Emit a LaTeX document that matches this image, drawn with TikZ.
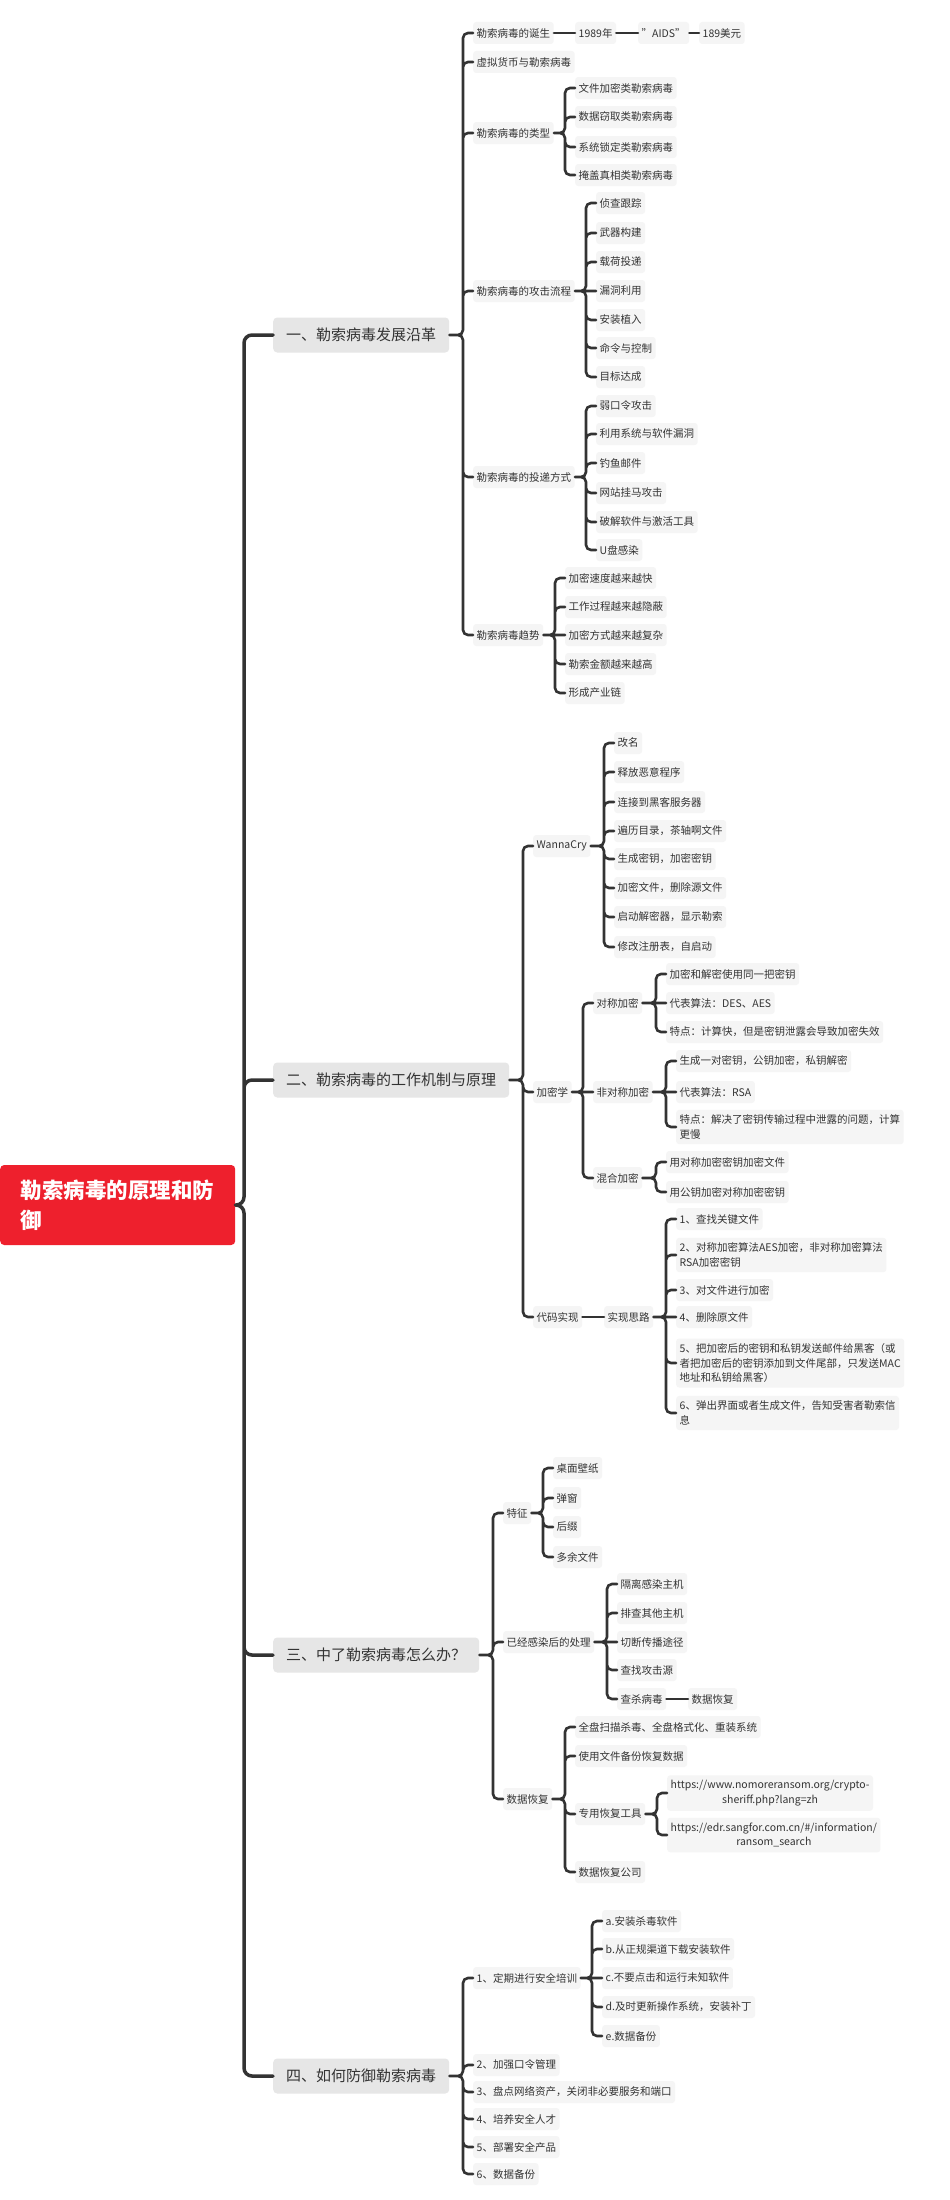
\documentclass[tikz,border=0pt]{standalone}
\usepackage{fontspec}
\setmainfont{Noto Sans CJK SC}
\usepackage{tikz}
\usetikzlibrary{calc}
\definecolor{rootred}{RGB}{238, 32, 45}
\definecolor{topicgray}{RGB}{230, 230, 230}
\definecolor{leafgray}{RGB}{245, 245, 245}
\definecolor{inkgray}{RGB}{51, 51, 51}
\newcommand\leaffont{\fontsize{10.5}{14.5}\selectfont}
\newcommand\topicfont{\fontsize{15}{18}\selectfont}
\newcommand\rootfont{\fontsize{21.5}{30}\selectfont\bfseries}
\tikzset{
  rootbox/.style={anchor=west, fill=rootred, text=white, rounded corners=4pt, font=\rootfont,
                  minimum width=235pt, minimum height=80pt, text width=194pt, align=left, inner sep=0pt},
  topic/.style={anchor=west, fill=topicgray, text=inkgray, rounded corners=4pt, font=\topicfont,
                inner xsep=13pt, inner ysep=0pt, minimum height=35pt},
  leaf/.style={anchor=west, fill=leafgray, text=inkgray, rounded corners=3pt, font=\leaffont,
               inner xsep=3.5pt, inner ysep=5pt, minimum height=22pt},
  mainlink/.style={draw=inkgray, line width=3.5pt, rounded corners=8pt, line cap=round},
  link/.style={draw=inkgray, line width=2.6pt, rounded corners=5pt, line cap=round},
  limb/.style={to path={-| ($(\tikztotarget)+(-29,0)$) -- (\tikztotarget)}},
  branch/.style={to path={-| ($(\tikztotarget)+(-10,0)$) -- (\tikztotarget)}}
}

\begin{document}
\begin{tikzpicture}[x=1pt, y=-1pt]
            % Frame to fix the page size
            \fill[white] (0,0) rectangle (950,2200);
            \useasboundingbox (0,0) rectangle (950,2200);
            % Root
            \node[rootbox] (root) at (0,1205) {勒索病毒的原理和防\\御};
            % Main topics
            \node[topic] (hist) at (273, 335) {一、勒索病毒发展沿革};
            \node[topic] (work) at (273,1080) {二、勒索病毒的工作机制与原理};
            \node[topic] (cure) at (273,1655) {三、中了勒索病毒怎么办？};
            \node[topic] (prev) at (273,2076) {四、如何防御勒索病毒};
            \draw[mainlink] (root.east) to[limb] (hist.west)  (root.east) to[limb] (work.west)
                            (root.east) to[limb] (cure.west)  (root.east) to[limb] (prev.west);

            % One: history
            \node[leaf] (birth) at (473,  33) {勒索病毒的诞生};
            \node[leaf] (year)  at (575,  33) {1989年};
            \node[leaf] (aids)  at (638,  33) {"AIDS"};
            \node[leaf] (usd)   at (699,  33) {189美元};
            \node[leaf] (coin)  at (473,  62) {虚拟货币与勒索病毒};
            \node[leaf] (kinds) at (473, 133) {勒索病毒的类型};
            \node[leaf] (k1)    at (575,  88) {文件加密类勒索病毒};
            \node[leaf] (k2)    at (575, 117) {数据窃取类勒索病毒};
            \node[leaf] (k3)    at (575, 147) {系统锁定类勒索病毒};
            \node[leaf] (k4)    at (575, 175) {掩盖真相类勒索病毒};
            \node[leaf] (flow)  at (473, 291) {勒索病毒的攻击流程};
            \node[leaf] (f1)    at (596, 203) {侦查跟踪};
            \node[leaf] (f2)    at (596, 233) {武器构建};
            \node[leaf] (f3)    at (596, 262) {载荷投递};
            \node[leaf] (f4)    at (596, 291) {漏洞利用};
            \node[leaf] (f5)    at (596, 320) {安装植入};
            \node[leaf] (f6)    at (596, 348) {命令与控制};
            \node[leaf] (f7)    at (596, 377) {目标达成};
            \node[leaf] (ways)  at (473, 477) {勒索病毒的投递方式};
            \node[leaf] (d1)    at (596, 406) {弱口令攻击};
            \node[leaf] (d2)    at (596, 434) {利用系统与软件漏洞};
            \node[leaf] (d3)    at (596, 463) {钓鱼邮件};
            \node[leaf] (d4)    at (596, 493) {网站挂马攻击};
            \node[leaf] (d5)    at (596, 522) {破解软件与激活工具};
            \node[leaf] (d6)    at (596, 550) {U盘感染};
            \node[leaf] (trend) at (473, 635) {勒索病毒趋势};
            \node[leaf] (r1)    at (565, 578) {加密速度越来越快};
            \node[leaf] (r2)    at (565, 607) {工作过程越来越隐蔽};
            \node[leaf] (r3)    at (565, 635) {加密方式越来越复杂};
            \node[leaf] (r4)    at (565, 664) {勒索金额越来越高};
            \node[leaf] (r5)    at (565, 693) {形成产业链};
            \draw[link] (hist.east) to[branch] (birth.west)  (hist.east) to[branch] (coin.west)
                        (hist.east) to[branch] (kinds.west)  (hist.east) to[branch] (flow.west)
                        (hist.east) to[branch] (ways.west)   (hist.east) to[branch] (trend.west);
            \draw[link] (birth.east) -- (year.west)  (year.east) -- (aids.west)  (aids.east) -- (usd.west);
            \draw[link] (kinds.east) to[branch] (k1.west)  (kinds.east) to[branch] (k2.west)
                        (kinds.east) to[branch] (k3.west)  (kinds.east) to[branch] (k4.west);
            \draw[link] (flow.east) to[branch] (f1.west)  (flow.east) to[branch] (f2.west)
                        (flow.east) to[branch] (f3.west)  (flow.east) -- (f4.west)
                        (flow.east) to[branch] (f5.west)  (flow.east) to[branch] (f6.west)
                        (flow.east) to[branch] (f7.west);
            \draw[link] (ways.east) to[branch] (d1.west)  (ways.east) to[branch] (d2.west)
                        (ways.east) to[branch] (d3.west)  (ways.east) to[branch] (d4.west)
                        (ways.east) to[branch] (d5.west)  (ways.east) to[branch] (d6.west);
            \draw[link] (trend.east) to[branch] (r1.west)  (trend.east) to[branch] (r2.west)
                        (trend.east) -- (r3.west)
                        (trend.east) to[branch] (r4.west)  (trend.east) to[branch] (r5.west);

            % Two: mechanism
            \node[leaf] (wanna) at (533, 846) {WannaCry};
            \node[leaf] (w1)    at (614, 743) {改名};
            \node[leaf] (w2)    at (614, 772) {释放恶意程序};
            \node[leaf] (w3)    at (614, 802) {连接到黑客服务器};
            \node[leaf] (w4)    at (614, 831) {遍历目录，茶轴啊文件};
            \node[leaf] (w5)    at (614, 859) {生成密钥，加密密钥};
            \node[leaf] (w6)    at (614, 888) {加密文件，删除源文件};
            \node[leaf] (w7)    at (614, 917) {启动解密器，显示勒索};
            \node[leaf] (w8)    at (614, 947) {修改注册表，自启动};
            \node[leaf] (crypt) at (533,1092) {加密学};
            \node[leaf] (sym)   at (593,1003) {对称加密};
            \node[leaf] (s1)    at (666, 974) {加密和解密使用同一把密钥};
            \node[leaf] (s2)    at (666,1003) {代表算法：DES、AES};
            \node[leaf] (s3)    at (666,1032) {特点：计算快，但是密钥泄露会导致加密失效};
            \node[leaf] (asym)  at (593,1092) {非对称加密};
            \node[leaf] (a1)    at (676,1061) {生成一对密钥，公钥加密，私钥解密};
            \node[leaf] (a2)    at (676,1092) {代表算法：RSA};
            \node[leaf, align=left] (a3) at (676,1127) {特点：解决了密钥传输过程中泄露的问题，计算\\更慢};
            \node[leaf] (hyb)   at (593,1178) {混合加密};
            \node[leaf] (h1)    at (666,1162) {用对称加密密钥加密文件};
            \node[leaf] (h2)    at (666,1192) {用公钥加密对称加密密钥};
            \node[leaf] (code)  at (533,1317) {代码实现};
            \node[leaf] (idea)  at (604,1317) {实现思路};
            \node[leaf] (i1)    at (676,1219) {1、查找关键文件};
            \node[leaf, align=left] (i2) at (676,1255) {2、对称加密算法AES加密，非对称加密算法\\RSA加密密钥};
            \node[leaf] (i3)    at (676,1290) {3、对文件进行加密};
            \node[leaf] (i4)    at (676,1317) {4、删除原文件};
            \node[leaf, align=left] (i5) at (676,1363) {5、把加密后的密钥和私钥发送邮件给黑客（或\\者把加密后的密钥添加到文件尾部，只发送MAC\\地址和私钥给黑客）};
            \node[leaf, align=left] (i6) at (676,1413) {6、弹出界面或者生成文件，告知受害者勒索信\\息};
            \draw[link] (work.east) to[branch] (wanna.west)  (work.east) to[branch] (crypt.west)
                        (work.east) to[branch] (code.west);
            \draw[link] (wanna.east) to[branch] (w1.west)  (wanna.east) to[branch] (w2.west)
                        (wanna.east) to[branch] (w3.west)  (wanna.east) to[branch] (w4.west)
                        (wanna.east) to[branch] (w5.west)  (wanna.east) to[branch] (w6.west)
                        (wanna.east) to[branch] (w7.west)  (wanna.east) to[branch] (w8.west);
            \draw[link] (crypt.east) to[branch] (sym.west)  (crypt.east) -- (asym.west)
                        (crypt.east) to[branch] (hyb.west);
            \draw[link] (sym.east) to[branch] (s1.west)  (sym.east) -- (s2.west)
                        (sym.east) to[branch] (s3.west);
            \draw[link] (asym.east) to[branch] (a1.west)  (asym.east) -- (a2.west)
                        (asym.east) to[branch] (a3.west);
            \draw[link] (hyb.east) to[branch] (h1.west)  (hyb.east) to[branch] (h2.west);
            \draw[link] (code.east) -- (idea.west);
            \draw[link] (idea.east) to[branch] (i1.west)  (idea.east) to[branch] (i2.west)
                        (idea.east) to[branch] (i3.west)  (idea.east) -- (i4.west)
                        (idea.east) to[branch] (i5.west)  (idea.east) to[branch] (i6.west);

            % Three: response
            \node[leaf] (sign)    at (503,1513) {特征};
            \node[leaf] (g1)      at (553,1468) {桌面壁纸};
            \node[leaf] (g2)      at (553,1498) {弹窗};
            \node[leaf] (g3)      at (553,1527) {后缀};
            \node[leaf] (g4)      at (553,1557) {多余文件};
            \node[leaf] (treat)   at (503,1642) {已经感染后的处理};
            \node[leaf] (t1)      at (617,1584) {隔离感染主机};
            \node[leaf] (t2)      at (617,1613) {排查其他主机};
            \node[leaf] (t3)      at (617,1642) {切断传播途径};
            \node[leaf] (t4)      at (617,1670) {查找攻击源};
            \node[leaf] (t5)      at (617,1699) {查杀病毒};
            \node[leaf] (tback)   at (688,1699) {数据恢复};
            \node[leaf] (restore) at (503,1799) {数据恢复};
            \node[leaf] (q1)      at (575,1727) {全盘扫描杀毒、全盘格式化、重装系统};
            \node[leaf] (q2)      at (575,1756) {使用文件备份恢复数据};
            \node[leaf] (tool)    at (575,1814) {专用恢复工具};
            \node[leaf, align=center] (u1) at (667,1793) {https://www.nomoreransom.org/crypto-\\sheriff.php?lang=zh};
            \node[leaf, align=center] (u2) at (667,1835) {https://edr.sangfor.com.cn/\#/information/\\ransom\_search};
            \node[leaf] (q4)      at (575,1872) {数据恢复公司};
            \draw[link] (cure.east) to[branch] (sign.west)  (cure.east) to[branch] (treat.west)
                        (cure.east) to[branch] (restore.west);
            \draw[link] (sign.east) to[branch] (g1.west)  (sign.east) to[branch] (g2.west)
                        (sign.east) to[branch] (g3.west)  (sign.east) to[branch] (g4.west);
            \draw[link] (treat.east) to[branch] (t1.west)  (treat.east) to[branch] (t2.west)
                        (treat.east) -- (t3.west)
                        (treat.east) to[branch] (t4.west)  (treat.east) to[branch] (t5.west);
            \draw[link] (t5.east) -- (tback.west);
            \draw[link] (restore.east) to[branch] (q1.west)  (restore.east) to[branch] (q2.west)
                        (restore.east) to[branch] (tool.west)  (restore.east) to[branch] (q4.west);
            \draw[link] (tool.east) to[branch] (u1.west)  (tool.east) to[branch] (u2.west);

            % Four: prevention
            \node[leaf] (train) at (473,1978) {1、定期进行安全培训};
            \node[leaf] (e1)    at (602,1921) {a.安装杀毒软件};
            \node[leaf] (e2)    at (602,1949) {b.从正规渠道下载安装软件};
            \node[leaf] (e3)    at (602,1978) {c.不要点击和运行未知软件};
            \node[leaf] (e4)    at (602,2007) {d.及时更新操作系统，安装补丁};
            \node[leaf] (e5)    at (602,2036) {e.数据备份};
            \node[leaf] (p2)    at (473,2065) {2、加强口令管理};
            \node[leaf] (p3)    at (473,2092) {3、盘点网络资产，关闭非必要服务和端口};
            \node[leaf] (p4)    at (473,2119) {4、培养安全人才};
            \node[leaf] (p5)    at (473,2147) {5、部署安全产品};
            \node[leaf] (p6)    at (473,2174) {6、数据备份};
            \draw[link] (prev.east) to[branch] (train.west)  (prev.east) to[branch] (p2.west)
                        (prev.east) to[branch] (p3.west)     (prev.east) to[branch] (p4.west)
                        (prev.east) to[branch] (p5.west)     (prev.east) to[branch] (p6.west);
            \draw[link] (train.east) to[branch] (e1.west)  (train.east) to[branch] (e2.west)
                        (train.east) -- (e3.west)
                        (train.east) to[branch] (e4.west)  (train.east) to[branch] (e5.west);
\end{tikzpicture}
\end{document}
